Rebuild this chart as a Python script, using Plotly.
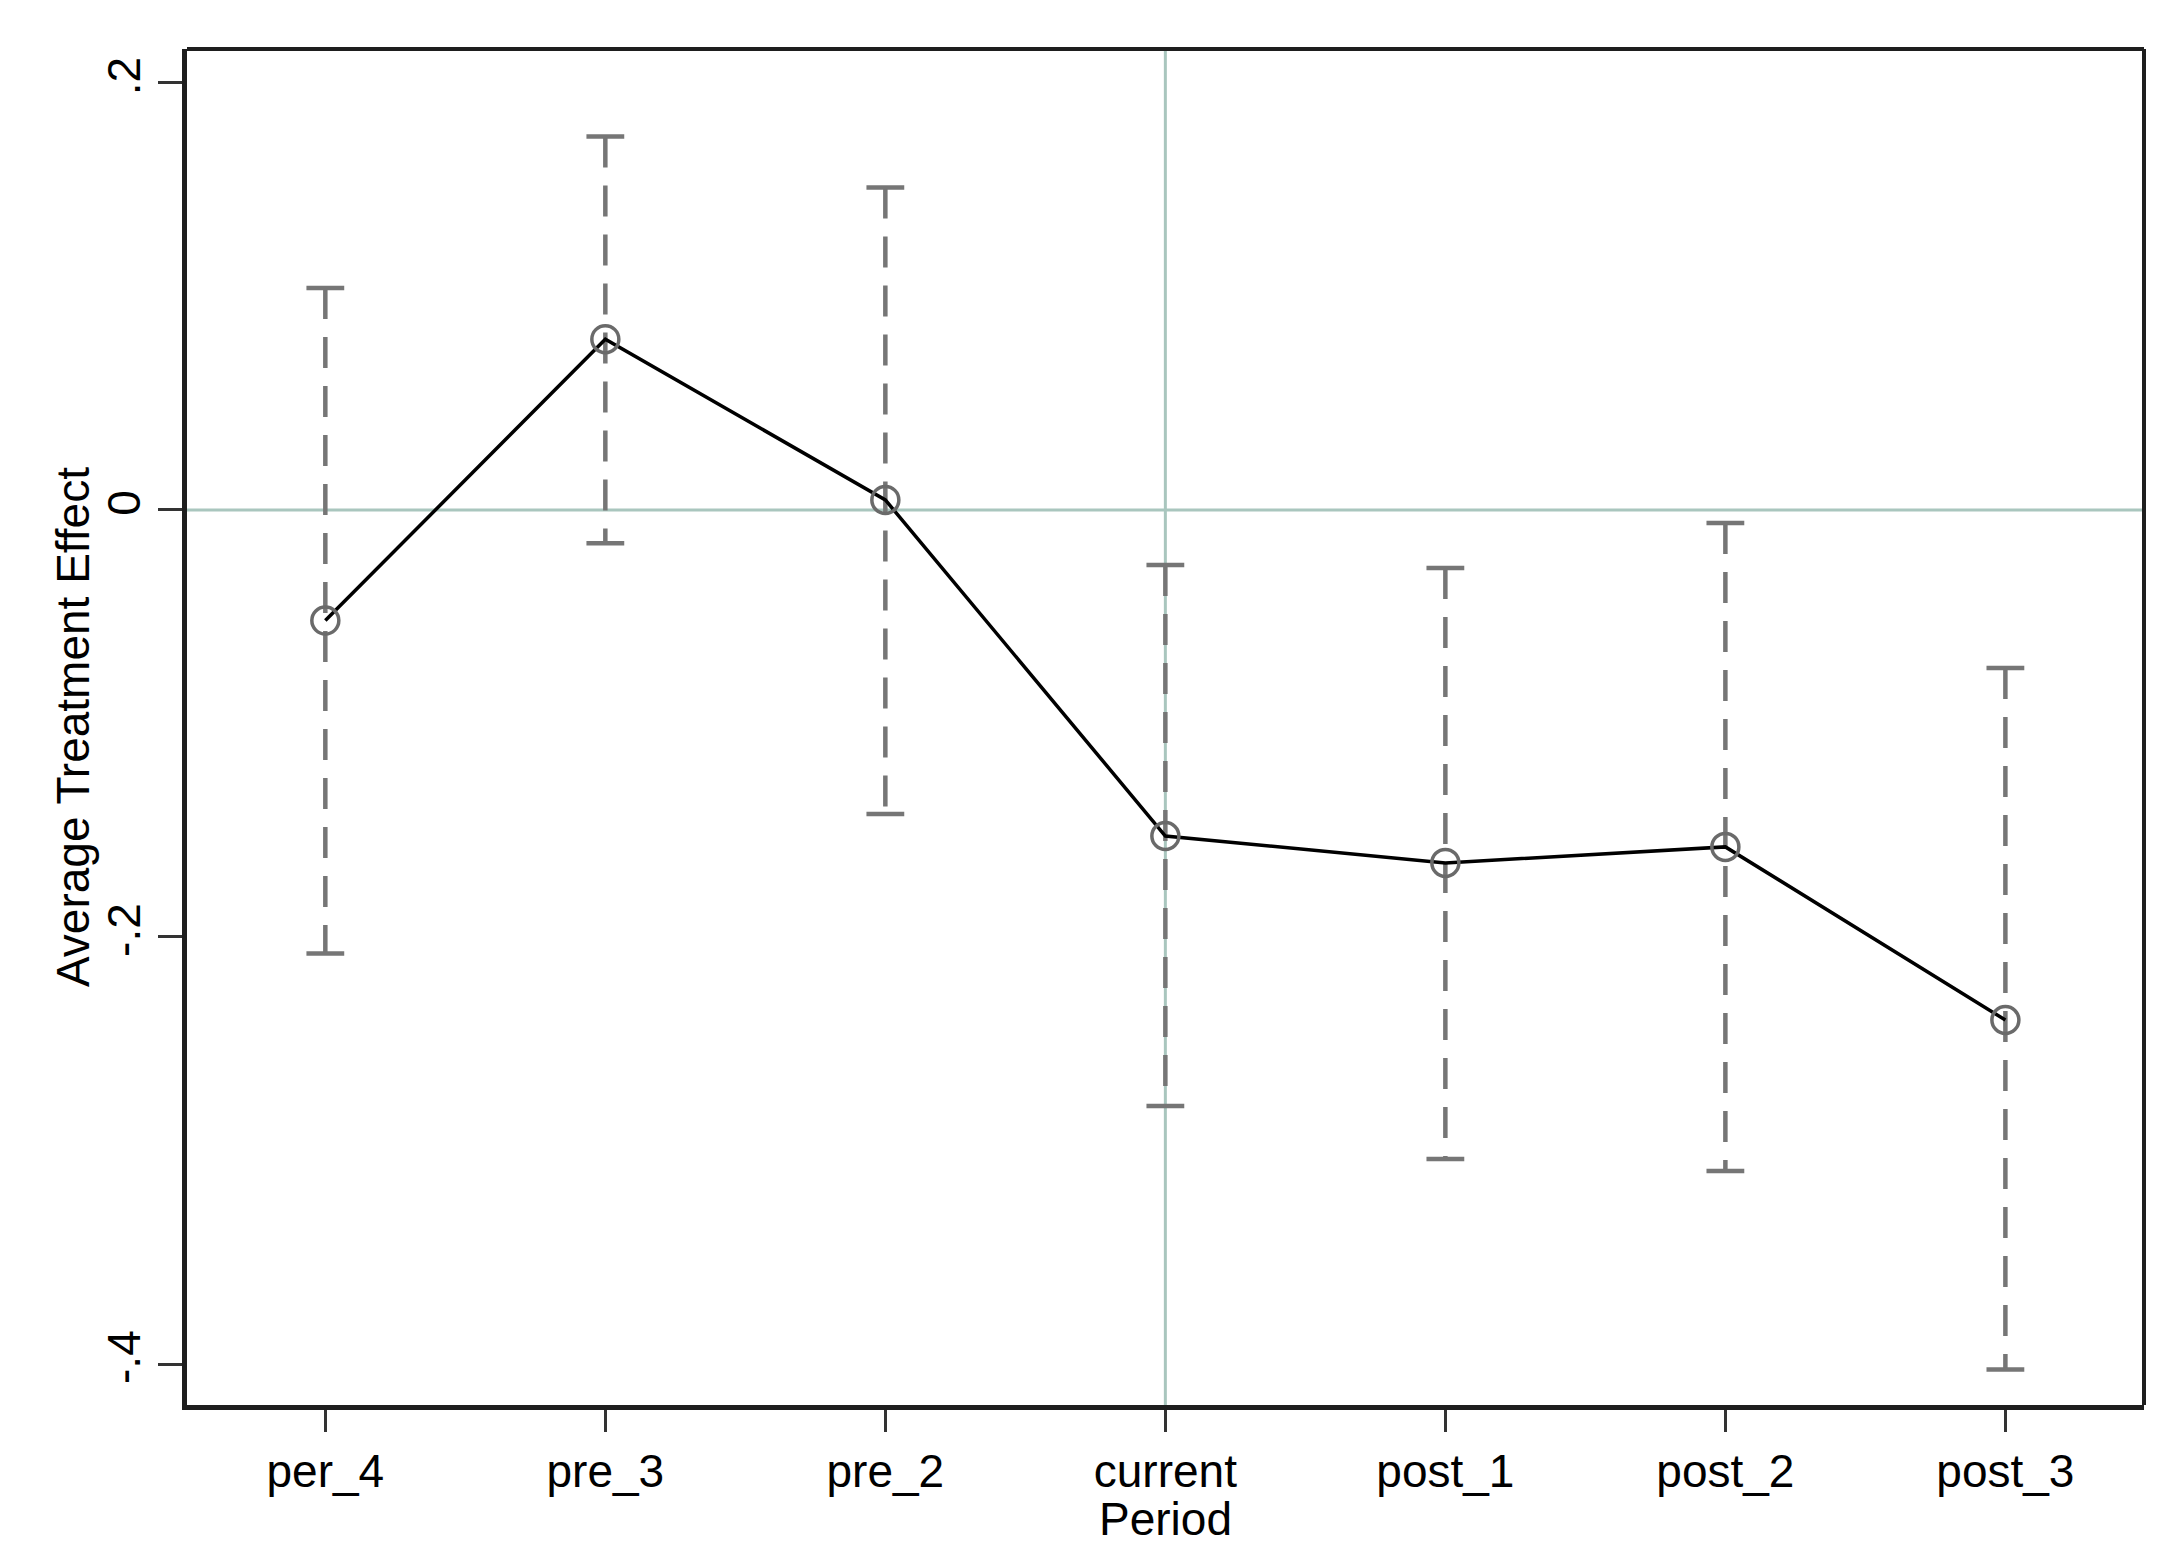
import plotly.graph_objects as go

# ---- data ----
periods = ["per_4", "pre_3", "pre_2", "current", "post_1", "post_2", "post_3"]
ate = [-0.0518, 0.0800, 0.0047, -0.1527, -0.1653, -0.1578, -0.2389]
ci_upper = [0.1040, 0.1749, 0.1510, -0.0258, -0.0272, -0.0061, -0.0740]
ci_lower = [-0.2077, -0.0156, -0.1424, -0.2792, -0.3040, -0.3096, -0.4026]
y_ticks = [-0.4, -0.2, 0.0, 0.2]
y_tick_labels = ["-.4", "-.2", "0", ".2"]
ref_period = "current"
ref_value = 0.0
x_title = "Period"
y_title = "Average Treatment Effect"

FONT = "Liberation Sans, Arial, sans-serif"
FS = 46
CI_COLOR = "#767676"
REF_COLOR = "#a9c6be"
FRAME = "#1e1e1e"

fig = go.Figure()

# dashed confidence-interval spikes
ci_x, ci_y = [], []
for p, lo, hi in zip(periods, ci_lower, ci_upper):
    ci_x += [p, p, None]
    ci_y += [hi, lo, None]
fig.add_trace(go.Scatter(
    x=ci_x, y=ci_y, mode="lines",
    line=dict(color=CI_COLOR, width=4.5, dash="31px,18px"),
    hoverinfo="skip", showlegend=False, connectgaps=False,
))

# caps
fig.add_trace(go.Scatter(
    x=periods + periods, y=ci_lower + ci_upper, mode="markers",
    marker=dict(symbol="line-ew", size=27, line=dict(color=CI_COLOR, width=4.5)),
    hoverinfo="skip", showlegend=False,
))

# connected estimates
fig.add_trace(go.Scatter(
    x=periods, y=ate, mode="lines",
    line=dict(color="black", width=3.5),
    showlegend=False,
))
fig.add_trace(go.Scatter(
    x=periods, y=ate, mode="markers",
    marker=dict(symbol="circle-open", size=27, color="#6a6a6a",
                line=dict(color="#6a6a6a", width=3.5)),
    showlegend=False,
))

# reference lines
fig.add_hline(y=ref_value, line=dict(color=REF_COLOR, width=3), layer="below")
fig.add_vline(x=periods.index(ref_period), line=dict(color=REF_COLOR, width=3), layer="below")

# top and right frame lines
fig.add_shape(type="line", xref="x domain", yref="y domain", x0=0, x1=1, y0=1, y1=1,
              line=dict(color=FRAME, width=4))
fig.add_shape(type="line", xref="x domain", yref="y domain", x0=1, x1=1, y0=0, y1=1,
              line=dict(color=FRAME, width=4))

# axis titles as annotations
fig.add_annotation(
    text=x_title, xref="x domain", yref="y domain", x=0.5, y=0,
    xanchor="center", yanchor="middle", yshift=-114, showarrow=False,
    font=dict(family=FONT, size=FS, color="black"),
)
fig.add_annotation(
    text=y_title, xref="x domain", yref="y domain", x=0, y=0.5,
    xanchor="center", yanchor="middle", xshift=-114, textangle=-90, showarrow=False,
    font=dict(family=FONT, size=FS, color="black"),
)

fig.update_layout(
    width=2180, height=1549,
    margin=dict(l=187, r=36, t=49, b=144),
    paper_bgcolor="white", plot_bgcolor="white",
    font=dict(family=FONT, size=FS, color="black"),
    showlegend=False,
)

fig.update_xaxes(
    type="category", categoryorder="array", categoryarray=periods,
    range=[-0.494, 6.495],
    showgrid=False, zeroline=False,
    showline=True, linecolor=FRAME, linewidth=5,
    ticks="outside", ticklen=22, tickwidth=3, tickcolor="#333333",
    tickfont=dict(family=FONT, size=FS, color="black"),
    ticklabelstandoff=0,
)
fig.update_yaxes(
    range=[-0.4192, 0.2159],
    tickvals=y_ticks, ticktext=y_tick_labels, tickangle=-90,
    showgrid=False, zeroline=False,
    showline=True, linecolor=FRAME, linewidth=5,
    ticks="outside", ticklen=24, tickwidth=3, tickcolor="#333333",
    tickfont=dict(family=FONT, size=FS, color="black"),
)

fig.write_html("out.html", config={"displayModeBar": False},
               post_script="document.body.style.margin='0';")
